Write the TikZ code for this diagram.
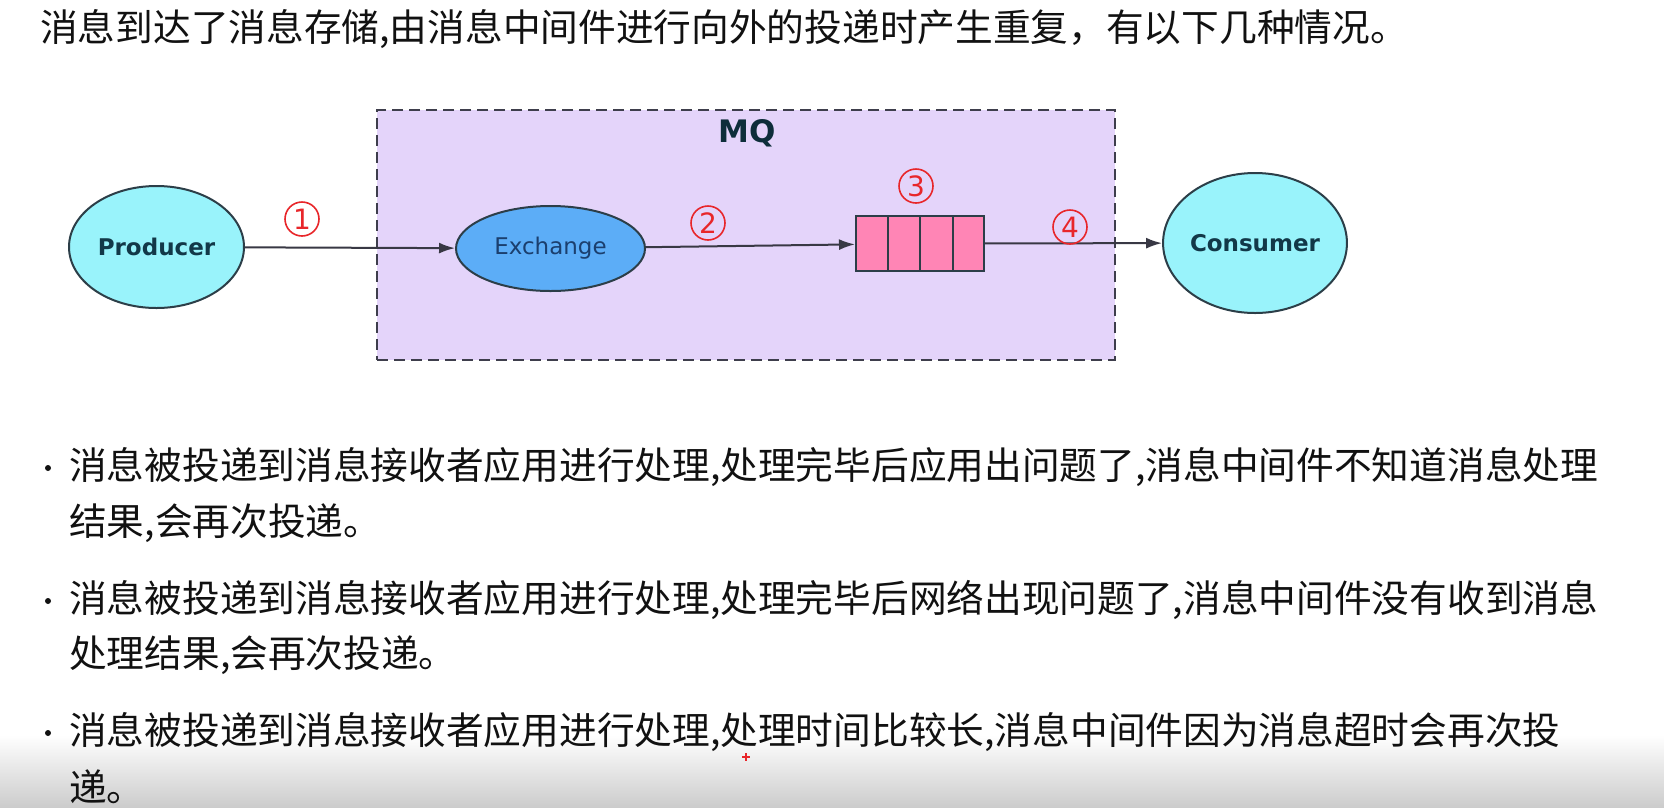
\documentclass[tikz,border=0pt]{standalone}
\usepackage{fontspec}
\setmainfont{Noto Sans CJK SC}
\newfontfamily\cjk{Noto Sans CJK SC}
\newfontfamily\lab{DejaVu Sans}
\usetikzlibrary{shapes.geometric,arrows.meta,calc}
\definecolor{mqfill}{HTML}{E4D4FA}
\definecolor{mqline}{HTML}{3E3E4C}
\definecolor{cyanfill}{HTML}{99F3FB}
\definecolor{exfill}{HTML}{5CADF7}
\definecolor{qfill}{HTML}{FF85B5}
\definecolor{edge}{HTML}{2C3E48}
\definecolor{numred}{HTML}{E8262A}
\definecolor{labtxt}{HTML}{123848}
\definecolor{extxt}{HTML}{1B3F6E}
\definecolor{arrc}{HTML}{383844}
\definecolor{bodytxt}{HTML}{111111}
\tikzset{
  txt/.style={anchor=west, inner sep=0pt, text=bodytxt},
  titlefont/.style={font=\cjk\fontsize{37.7}{42}\selectfont},
  bodyfont/.style={font=\cjk\fontsize{37.7}{42}\selectfont},
  dotnode/.style={circle, fill=bodytxt, minimum size=6pt, inner sep=0pt},
  mqbox/.style={draw=mqline, fill=mqfill, line width=2.5pt, dash pattern=on 11pt off 6pt, inner sep=0pt},
  endpoint/.style={ellipse, draw=edge, fill=cyanfill, line width=2pt, inner sep=0pt, text=labtxt, font=\lab\bfseries\fontsize{23}{26}\selectfont},
  exnode/.style={ellipse, draw=edge, fill=exfill, line width=2pt, inner sep=0pt, text=extxt, font=\lab\fontsize{23}{26}\selectfont},
  qnode/.style={rectangle, draw=edge, fill=qfill, line width=2pt, inner sep=0pt, minimum width=128pt, minimum height=55pt},
  num/.style={circle, draw=numred, line width=1.6pt, text=numred, minimum size=34pt, inner sep=0pt, font=\lab\fontsize{28}{30}\selectfont},
  arr/.style={draw=arrc, line width=2pt, -{Latex[length=16pt,width=11pt]}},
}
\begin{document}
\begin{tikzpicture}[x=1pt,y=-1pt]
\useasboundingbox (0,0) rectangle (1664,807);
\fill[white] (0,0) rectangle (1664,807);
\shade[top color=white, bottom color=black!20] (0,735) rectangle (1664,807);

% title
\node[txt, titlefont] (title) at (40,29) {消息到达了消息存储,由消息中间件进行向外的投递时产生重复，有以下几种情况。};

% MQ box
\node[mqbox, minimum width=738pt, minimum height=250pt] (mq) at (746,235) {};
\node[inner sep=0pt, text=labtxt!80!black, font=\lab\bfseries\fontsize{31}{34}\selectfont] (mqlabel) at (747,133) {MQ};

% nodes
\node[endpoint, minimum width=175pt, minimum height=122pt] (prod) at (156.5,247) {Producer};
\node[exnode, minimum width=189pt, minimum height=85pt] (exch) at (550.5,248.5) {Exchange};
\node[qnode] (queue) at (920,243.5) {};
\foreach \i in {1,2,3}
  \draw[draw=edge, line width=2pt] ($(queue.north west)!\i/4!(queue.north east)$) -- ($(queue.south west)!\i/4!(queue.south east)$);
\node[endpoint, minimum width=178pt, minimum height=140pt] (cons) at (1255,243) {Consumer};

% arrows
\draw[arr] (prod) -- (exch);
\draw[arr] (exch) -- (queue);
\draw[arr] (queue) -- (cons);

% numbers
\node[num] (n1) at (302,219) {1};
\node[num] (n2) at (708,223) {2};
\node[num] (n3) at (916,186) {3};
\node[num] (n4) at (1070,227) {4};

% bullets
\node[dotnode] (b1) at (48,468) {};
\node[txt, bodyfont] (l1a) at (69,467) {消息被投递到消息接收者应用进行处理,处理完毕后应用出问题了,消息中间件不知道消息处理};
\node[txt, bodyfont] (l1b) at (69,523) {结果,会再次投递。};
\node[dotnode] (b2) at (48,601) {};
\node[txt, bodyfont] (l2a) at (69,600) {消息被投递到消息接收者应用进行处理,处理完毕后网络出现问题了,消息中间件没有收到消息};
\node[txt, bodyfont] (l2b) at (69,655) {处理结果,会再次投递。};
\node[dotnode] (b3) at (48,733) {};
\node[txt, bodyfont] (l3a) at (69,732) {消息被投递到消息接收者应用进行处理,处理时间比较长,消息中间件因为消息超时会再次投};
\node[txt, bodyfont] (l3b) at (69,787) {递。};

% cursor mark
\coordinate (cur) at (746,757);
\draw[numred, line width=1.2pt] ($(cur)+(-4,0)$) -- ($(cur)+(4,0)$);
\draw[numred, line width=1.2pt] ($(cur)+(0,-4)$) -- ($(cur)+(0,4)$);
\end{tikzpicture}
\end{document}
